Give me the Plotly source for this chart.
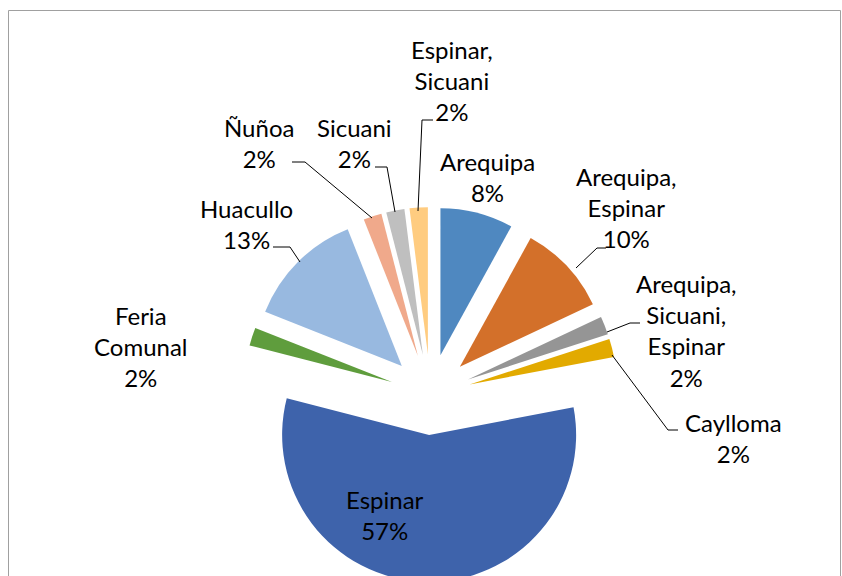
import plotly.graph_objects as go

# Data
labels = ["Arequipa", "Arequipa,<br>Espinar", "Arequipa,<br>Sicuani,<br>Espinar", "Caylloma", "Espinar",
          "Feria<br>Comunal", "Huacullo", "Ñuñoa", "Sicuani", "Espinar,<br>Sicuani"]
values = [8, 10, 2, 2, 57, 2, 13, 2, 2, 2]
colors = ["#4F88C0", "#D3702A", "#959595", "#E2AA00", "#3E63AB",
          "#5F9D3D", "#98B9E0", "#F0A98B", "#BFBFBF", "#FFCC80"]

# layout helpers (pixel coordinates)
W = 842
H = 640
FONT = "Lato, 'Open Sans', sans-serif"

label_pos = [(487, 177), (626, 207), (686, 330), (733, 438), (385, 515),
             (141, 346), (246, 224), (259, 143), (354, 143), (452, 80)]

leaders = [
    None,
    "M 606 248 L 597 248 L 576 268",
    "M 640 323 L 630 323 L 607 332",
    "M 678 430 L 668 430 L 612 355",
    None,
    None,
    "M 273 247 L 290 247 L 300 262",
    "M 292 162 L 305 162 L 372 218",
    "M 375 167 L 387 167 L 395 212",
    "M 433 120 L 422 120 L 418 211",
]

cx, cy, r, pull = 430.4, 394.5, 147, 0.275
half = r * (1 + pull)

fig = go.Figure()
# invisible trace so the pixel-coordinate axes exist
fig.add_trace(go.Scatter(x=[], y=[], showlegend=False, hoverinfo="skip"))
fig.add_trace(go.Pie(
    labels=[l.replace("<br>", " ") for l in labels],
    values=values,
    marker=dict(colors=colors, line=dict(width=0)),
    pull=[pull] * len(values),
    sort=False,
    direction="clockwise",
    rotation=0,
    textinfo="none",
    showlegend=False,
    domain=dict(x=[(cx - half) / W, (cx + half) / W],
                y=[1 - (cy + half) / H, 1 - (cy - half) / H]),
))

total = sum(values)
annotations = []
shapes = [dict(type="rect", xref="x", yref="y", x0=8.5, x1=840.5, y0=10.5, y1=H + 20,
               line=dict(color="#A0A0A0", width=1), layer="below")]
for i in range(len(labels)):
    pct = round(values[i] * 100 / total)
    x, y = label_pos[i]
    annotations.append(dict(x=x, y=y, xref="x", yref="y", showarrow=False,
                            text=labels[i] + "<br>" + str(pct) + "%",
                            align="center", xanchor="center", yanchor="middle",
                            font=dict(family=FONT, size=24, color="#000000")))
    if leaders[i]:
        shapes.append(dict(type="path", xref="x", yref="y", path=leaders[i],
                           line=dict(color="#000000", width=1)))

fig.update_layout(
    width=W, height=H,
    margin=dict(l=0, r=0, t=0, b=0),
    paper_bgcolor="white", plot_bgcolor="white",
    xaxis=dict(range=[0, W], visible=False, fixedrange=True),
    yaxis=dict(range=[H, 0], visible=False, fixedrange=True),
    annotations=annotations,
    shapes=shapes,
    showlegend=False,
)

fig.write_html("out.html", config={"displayModeBar": False},
               post_script="document.body.style.margin='0';"
                           "document.body.style.overflow='hidden';"
                           "document.documentElement.style.overflow='hidden';")
